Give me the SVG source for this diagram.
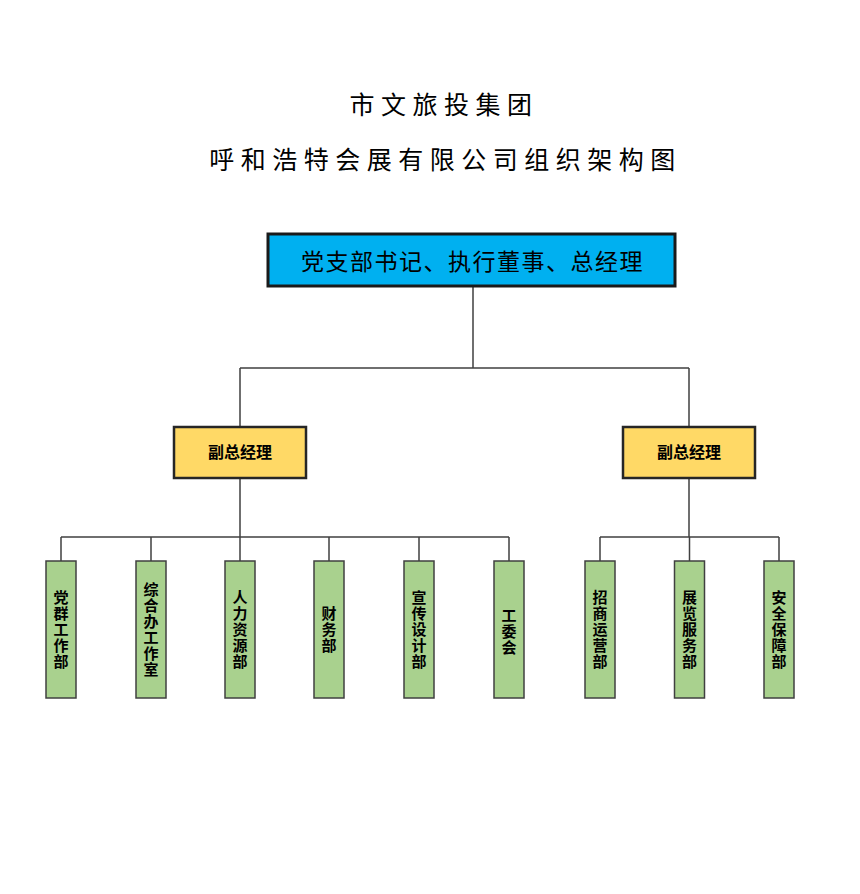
<svg xmlns="http://www.w3.org/2000/svg" width="860" height="894" viewBox="0 0 860 894">
<style>
text{font-family:"Liberation Serif","Noto Sans CJK SC",serif;fill:#000}
.title{font-size:25px;letter-spacing:6.5px;text-anchor:middle}
.top{font-size:23px;letter-spacing:1.5px;text-anchor:middle}
.dep{font-size:16px;font-weight:bold;text-anchor:middle}
.v{font-size:15px;font-weight:bold;text-anchor:middle}
.line{fill:none;stroke:#404040;stroke-width:1.5}
.gm{fill:#00B0F0;stroke:#1a1a1a;stroke-width:3}
.vp{fill:#FFD966;stroke:#262626;stroke-width:2.5}
.dept{fill:#A9D18E;stroke:#404040;stroke-width:1.5}
</style>
<rect width="860" height="894" fill="#fff"/>
<g id="titles">
<text class="title" x="444" y="114">市文旅投集团</text>
<text class="title" x="445.5" y="169">呼和浩特会展有限公司组织架构图</text>
</g>
<g id="connectors">
<path class="line" d="M473,286V368M240,368H689M240,368V427M689,368V427"/>
<path class="line" d="M240,478V537M61,537H509M61,537V561M151,537V561M240,537V561M329,537V561M419,537V561M509,537V561"/>
<path class="line" d="M689,478V537M600,537H779M600,537V561M689.5,537V561M779,537V561"/>
</g>
<g id="node-gm">
<rect class="gm" x="268" y="234" width="407" height="52"/>
<text class="top" x="472.5" y="270">党支部书记、执行董事、总经理</text>
</g>
<g id="node-vp1">
<rect class="vp" x="174" y="427" width="132" height="51"/>
<text class="dep" x="240" y="458">副总经理</text>
</g>
<g id="node-vp2">
<rect class="vp" x="623" y="427" width="132" height="51"/>
<text class="dep" x="689" y="458">副总经理</text>
</g>
<g id="node-d1">
<rect class="dept" x="46" y="561" width="30" height="137"/>
<text class="v"><tspan x="61" y="603">党</tspan><tspan x="61" y="619">群</tspan><tspan x="61" y="635">工</tspan><tspan x="61" y="651">作</tspan><tspan x="61" y="667">部</tspan></text>
</g>
<g id="node-d2">
<rect class="dept" x="136" y="561" width="30" height="137"/>
<text class="v"><tspan x="151" y="595">综</tspan><tspan x="151" y="611">合</tspan><tspan x="151" y="627">办</tspan><tspan x="151" y="643">工</tspan><tspan x="151" y="659">作</tspan><tspan x="151" y="675">室</tspan></text>
</g>
<g id="node-d3">
<rect class="dept" x="225" y="561" width="30" height="137"/>
<text class="v"><tspan x="240" y="603">人</tspan><tspan x="240" y="619">力</tspan><tspan x="240" y="635">资</tspan><tspan x="240" y="651">源</tspan><tspan x="240" y="667">部</tspan></text>
</g>
<g id="node-d4">
<rect class="dept" x="314" y="561" width="30" height="137"/>
<text class="v"><tspan x="329" y="619">财</tspan><tspan x="329" y="635">务</tspan><tspan x="329" y="651">部</tspan></text>
</g>
<g id="node-d5">
<rect class="dept" x="404" y="561" width="30" height="137"/>
<text class="v"><tspan x="419" y="603">宣</tspan><tspan x="419" y="619">传</tspan><tspan x="419" y="635">设</tspan><tspan x="419" y="651">计</tspan><tspan x="419" y="667">部</tspan></text>
</g>
<g id="node-d6">
<rect class="dept" x="494" y="561" width="30" height="137"/>
<text class="v"><tspan x="509" y="621">工</tspan><tspan x="509" y="637">委</tspan><tspan x="509" y="653">会</tspan></text>
</g>
<g id="node-d7">
<rect class="dept" x="585" y="561" width="30" height="137"/>
<text class="v"><tspan x="600" y="603">招</tspan><tspan x="600" y="619">商</tspan><tspan x="600" y="635">运</tspan><tspan x="600" y="651">营</tspan><tspan x="600" y="667">部</tspan></text>
</g>
<g id="node-d8">
<rect class="dept" x="674.5" y="561" width="30" height="137"/>
<text class="v"><tspan x="689.5" y="603">展</tspan><tspan x="689.5" y="619">览</tspan><tspan x="689.5" y="635">服</tspan><tspan x="689.5" y="651">务</tspan><tspan x="689.5" y="667">部</tspan></text>
</g>
<g id="node-d9">
<rect class="dept" x="764" y="561" width="30" height="137"/>
<text class="v"><tspan x="779" y="603">安</tspan><tspan x="779" y="619">全</tspan><tspan x="779" y="635">保</tspan><tspan x="779" y="651">障</tspan><tspan x="779" y="667">部</tspan></text>
</g>
</svg>
